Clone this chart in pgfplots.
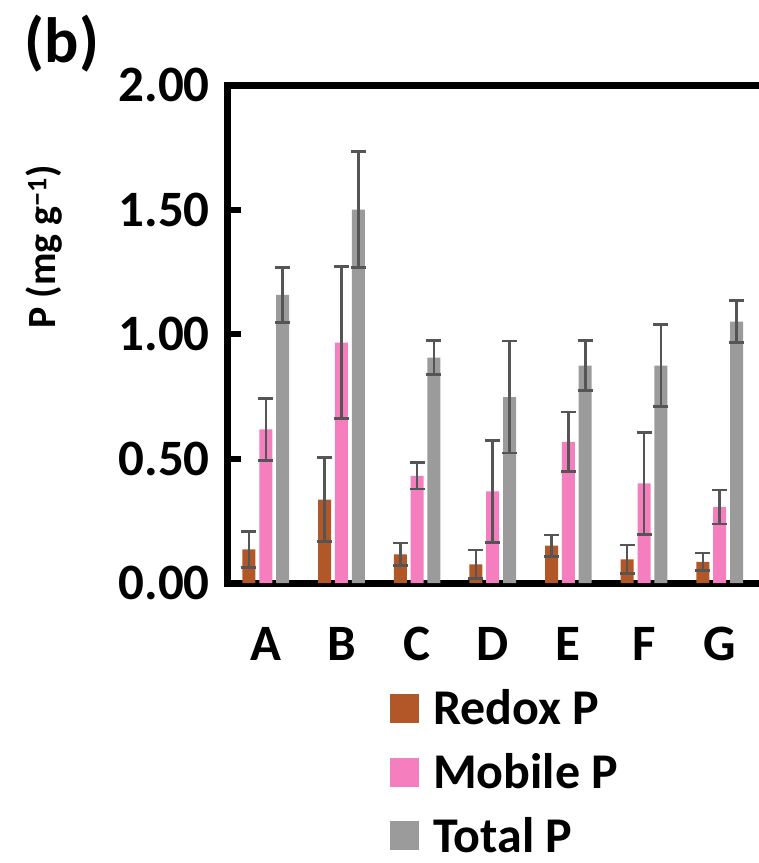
\documentclass[border=0pt]{standalone}
\usepackage{pgfplots}
\pgfplotsset{compat=1.18}
\usepackage{pgfplotstable}
\usepackage{fontspec}
\setmainfont{Carlito}
\definecolor{redox}{RGB}{178,88,40}
\definecolor{mobile}{RGB}{245,126,190}
\definecolor{totalp}{RGB}{155,155,155}
\definecolor{errc}{RGB}{85,85,85}
\newcommand\tickfont{\fontsize{51}{60}\selectfont\bfseries}
\newcommand\legfont{\fontsize{50}{58}\selectfont\bfseries}
\newcommand\labfont{\fontsize{40}{48}\selectfont\bfseries}
\newcommand\panfont{\fontsize{64}{72}\selectfont\bfseries}

\pgfplotstableread{
x y e
0 0.135 0.072
1 0.335 0.168
2 0.115 0.045
3 0.075 0.058
4 0.150 0.043
5 0.095 0.058
6 0.085 0.035
}\redoxtab
\pgfplotstableread{
x y e
0 0.617 0.125
1 0.965 0.305
2 0.430 0.053
3 0.368 0.205
4 0.567 0.120
5 0.400 0.205
6 0.305 0.068
}\mobiletab
\pgfplotstableread{
x y e
0 1.157 0.110
1 1.500 0.232
2 0.905 0.068
3 0.747 0.225
4 0.873 0.100
5 0.873 0.165
6 1.050 0.085
}\totaltab

\pgfplotsset{
  sqleg/.style={legend image code/.code={\fill[##1] (0pt,-15pt) rectangle (29pt,14pt);}},
  myerr/.style={error bars/.cd, y dir=both, y explicit,
    error bar style={line width=2.6pt, errc},
    error mark options={rotate=90, line width=2.6pt, errc, mark size=7.5pt}},
}

\begin{document}
\begin{tikzpicture}
\begin{axis}[
  scale only axis, width=531pt, height=498pt,
  ybar=3.85pt, bar width=13pt,
  xmin=-0.5, xmax=6.52, ymin=0, ymax=2,
  axis x line*=box, axis y line*=left,
  axis line style={line width=7pt, black, line cap=rect},
  xtick={0,1,2,3,4,5,6}, xticklabels={A,B,C,D,E,F,G},
  x tick style={draw=none},
  ytick={0,0.5,1,1.5,2},
  ytick align=inside, major tick length=13pt,
  y tick style={line width=6pt, black},
  y tick label style={/pgf/number format/.cd, fixed, fixed zerofill, precision=2, assume math mode=true, /tikz/.cd, font=\tickfont, inner sep=0pt, anchor=east, xshift=-18pt},
  x tick label style={font=\tickfont, inner sep=0pt, anchor=north, yshift=-31pt},
  legend style={at={(rel axis cs:0.305,-0.214)}, anchor=north west, draw=none, fill=none, inner sep=0pt, font=\legfont, row sep=27pt, column sep=14pt, nodes={inner sep=0pt}},
  legend cell align=left,
]
\addplot[fill=redox, draw=none, sqleg, myerr] table[x=x, y=y, y error=e] {\redoxtab};
\addlegendentry{Redox P}
\addplot[fill=mobile, draw=none, sqleg, myerr] table[x=x, y=y, y error=e] {\mobiletab};
\addlegendentry{Mobile P}
\addplot[fill=totalp, draw=none, sqleg, myerr] table[x=x, y=y, y error=e] {\totaltab};
\addlegendentry{Total P}
\coordinate (bl) at (rel axis cs:0,0);
\coordinate (yl) at (rel axis cs:0,0.675);
\end{axis}
\node[rotate=90, font=\labfont] at ([shift={(-184pt,0pt)}]yl) {P (mg g\textsuperscript{−1})};
\node[font=\panfont] at ([shift={(-166pt,539pt)}]bl) {(b)};
\pgfresetboundingbox
\path[use as bounding box] ([shift={(-228pt,-280pt)}]bl) rectangle ([shift={(531pt,583pt)}]bl);
\end{tikzpicture}
\end{document}
